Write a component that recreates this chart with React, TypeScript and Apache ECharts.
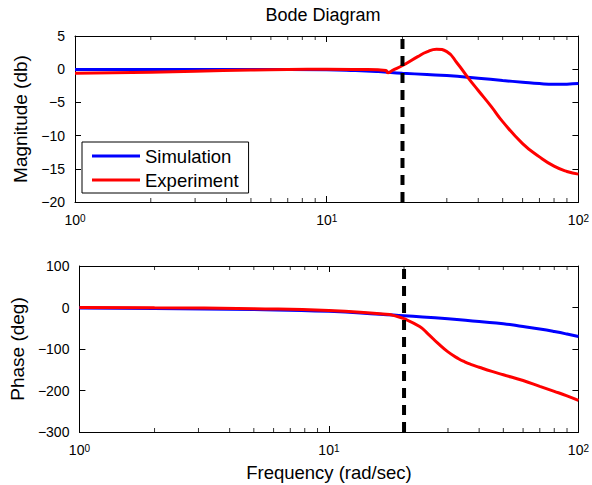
import React, { useEffect, useRef } from "react";
import * as echarts from "echarts";

const FONT = "'Liberation Sans', Arial, Helvetica, sans-serif";

// Magnitude (dB)
const simMagFreq = [1, 2, 5, 10, 13, 16, 20, 25, 30, 40, 50, 60, 70, 80, 90, 100];
const simMag = [-0.05, -0.05, -0.05, -0.08, -0.2, -0.36, -0.6, -0.8, -0.96, -1.36, -1.7, -1.96, -2.17, -2.27, -2.25, -2.17];
const expMagFreq = [1, 2, 3, 5, 7, 10, 14, 16, 17.2, 17.5, 18.2, 20, 23, 25, 27.3, 30, 33, 36.4, 40, 45, 50, 60, 70, 80, 90, 100];
const expMag = [-0.6, -0.45, -0.3, -0.12, -0.03, 0, -0.05, -0.1, -0.2, -0.55, -0.2, 0.55, 1.9, 2.6, 3.0, 2.65, 0.9, -1.27, -3.2, -5.6, -7.9, -11.2, -13.2, -14.6, -15.4, -15.8];

// Phase (deg)
const simPhaseFreq = [1, 2, 5, 10, 16, 20, 30, 40, 50, 60, 70, 80, 90, 100];
const simPhase = [-1.5, -2.5, -5, -9, -16, -20, -27, -34, -39, -46, -52, -58, -64, -70];
const expPhaseFreq = [1, 2, 5, 10, 16, 17.5, 18.1, 20, 23.1, 25, 27.3, 30, 33.2, 35, 37, 40, 45, 50, 60, 70, 80, 90, 100];
const expPhase = [0, -0.5, -3, -7, -15, -17, -19, -27, -46, -64, -86, -107, -124, -131, -137, -144, -154, -162, -176, -190, -202, -213, -224];

// Reference line and axis ticks
const cutoffFreq = 20;
const minorTickFreqs = [2, 3, 4, 5, 6, 7, 8, 9, 20, 30, 40, 50, 60, 70, 80, 90];
const magRange = [-20, 5];
const magInterval = 5;
const phaseRange = [-300, 100];
const phaseInterval = 100;

const zip = (xs: number[], ys: number[]) => xs.map((x, i) => [x, ys[i]]);

const fmtY = (v: number) => (v < 0 ? "\u2212" + -v : String(v));

export default function App() {
  const ref = useRef<HTMLDivElement>(null);
  useEffect(() => {
    if (!ref.current) return;
    const chart = echarts.init(ref.current, null, { renderer: "svg" });

    const xBottom = (gridIndex: number, name?: string) => ({
      type: "log",
      gridIndex,
      position: "bottom",
      min: 1,
      max: 100,
      logBase: 10,
      name,
      nameLocation: "middle",
      nameGap: 31,
      nameTextStyle: { fontSize: 18.5, color: "#000", fontFamily: FONT },
      axisLine: { show: true, onZero: false, lineStyle: { color: "#000", width: 1 } },
      axisTick: { show: true, inside: true, length: 6, lineStyle: { color: "#000" } },
      splitLine: { show: false },
      minorTick: { show: false },
      axisLabel: {
        margin: 11,
        formatter: (v: number) => `{b|10}{s|${Math.round(Math.log10(v))}}`,
        rich: {
          b: { fontSize: 14, lineHeight: 14, padding: [6, 0, 0, 0], verticalAlign: "bottom", color: "#000", fontFamily: FONT },
          s: { fontSize: 10, lineHeight: 10, verticalAlign: "top", color: "#000", fontFamily: FONT },
        },
      },
    });
    const xTop = (gridIndex: number) => ({
      type: "log",
      gridIndex,
      position: "top",
      min: 1,
      max: 100,
      logBase: 10,
      axisLine: { show: true, onZero: false, lineStyle: { color: "#000", width: 1 } },
      axisTick: { show: true, inside: true, length: 6, lineStyle: { color: "#000" } },
      axisLabel: { show: false },
      splitLine: { show: false },
    });
    const yLeft = (gridIndex: number, range: number[], interval: number, name: string, gap: number) => ({
      type: "value",
      gridIndex,
      position: "left",
      min: range[0],
      max: range[1],
      interval,
      name,
      nameLocation: "middle",
      nameGap: gap,
      nameTextStyle: { fontSize: 19, color: "#000", fontFamily: FONT },
      axisLine: { show: true, onZero: false, lineStyle: { color: "#000", width: 1 } },
      axisTick: { show: true, inside: true, length: 6, lineStyle: { color: "#000" } },
      splitLine: { show: false },
      axisLabel: { fontSize: 14, color: "#000", fontFamily: FONT, margin: 10, formatter: fmtY },
    });
    const yRight = (gridIndex: number, range: number[], interval: number) => ({
      type: "value",
      gridIndex,
      position: "right",
      min: range[0],
      max: range[1],
      interval,
      axisLine: { show: true, onZero: false, lineStyle: { color: "#000", width: 1 } },
      axisTick: { show: true, inside: true, length: 6, lineStyle: { color: "#000" } },
      axisLabel: { show: false },
      splitLine: { show: false },
    });

    const curve = (name: string, color: string, data: number[][], axis: number, z: number) => ({
      type: "line",
      name,
      xAxisIndex: axis,
      yAxisIndex: axis,
      data,
      symbol: "none",
      showSymbol: false,
      smooth: true,
      lineStyle: { color, width: 3 },
      itemStyle: { color },
      z,
      silent: true,
    });
    const cutoff = (axis: number, range: number[]) => ({
      type: "line",
      name: "cutoff",
      xAxisIndex: axis,
      yAxisIndex: axis,
      data: [
        [cutoffFreq, range[0]],
        [cutoffFreq, range[1]],
      ],
      symbol: "none",
      lineStyle: { color: "#000", width: 4, type: [10, 7] },
      z: 6,
      silent: true,
    });
    const minorTicks = (axis: number, y: number, dir: number) => ({
      type: "scatter",
      name: "minor",
      xAxisIndex: axis,
      yAxisIndex: axis,
      data: minorTickFreqs.map((f) => [f, y]),
      symbol: "rect",
      symbolSize: [1, 4],
      symbolOffset: [0, dir * 2],
      itemStyle: { color: "#000" },
      clip: false,
      silent: true,
      z: 7,
    });

    chart.setOption({
      animation: false,
      backgroundColor: "#fff",
      textStyle: { fontFamily: FONT },
      title: {
        text: "Bode Diagram",
        left: 323,
        top: 6,
        padding: 0,
        textAlign: "center",
        textStyle: { fontSize: 18, fontWeight: "normal", color: "#000", fontFamily: FONT },
      },
      legend: {
        data: [
          { name: "Simulation", icon: "rect", itemStyle: { color: "#0000ff" } },
          { name: "Experiment", icon: "rect", itemStyle: { color: "#ff0000" } },
        ],
        orient: "vertical",
        left: 82,
        top: 142,
        padding: [4, 10, 3, 10],
        itemWidth: 48,
        itemHeight: 3,
        itemGap: 4,
        borderColor: "#000",
        borderWidth: 1,
        backgroundColor: "#fff",
        textStyle: { fontSize: 18.5, lineHeight: 20, color: "#000", fontFamily: FONT },
        selectedMode: false,
        z: 10,
      },
      grid: [
        { left: 75, right: 11, top: 36, height: 166, containLabel: false },
        { left: 75, right: 11, top: 266, height: 166, containLabel: false },
      ],
      xAxis: [xBottom(0), xBottom(1, "Frequency (rad/sec)"), xTop(0), xTop(1)],
      yAxis: [
        yLeft(0, magRange, magInterval, "Magnitude (db)", 33),
        yLeft(1, phaseRange, phaseInterval, "Phase (deg)", 50),
        yRight(0, magRange, magInterval),
        yRight(1, phaseRange, phaseInterval),
      ],
      series: [
        curve("Simulation", "#0000ff", zip(simMagFreq, simMag), 0, 3),
        curve("Experiment", "#ff0000", zip(expMagFreq, expMag), 0, 4),
        curve("Simulation", "#0000ff", zip(simPhaseFreq, simPhase), 1, 3),
        curve("Experiment", "#ff0000", zip(expPhaseFreq, expPhase), 1, 4),
        cutoff(0, magRange),
        cutoff(1, phaseRange),
        minorTicks(0, magRange[0], -1),
        minorTicks(0, magRange[1], 1),
        minorTicks(1, phaseRange[0], -1),
        minorTicks(1, phaseRange[1], 1),
      ],
    });
    return () => chart.dispose();
  }, []);
  return <div ref={ref} style={{ width: 592, height: 485, position: "absolute", left: 0, top: 0 }} />;
}
